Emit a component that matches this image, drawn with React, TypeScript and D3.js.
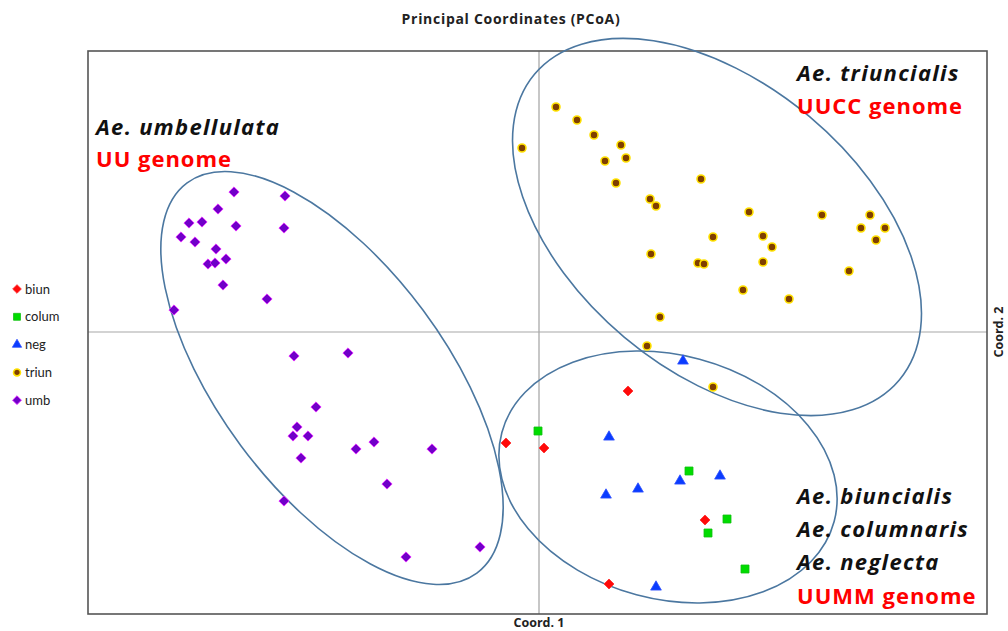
import * as d3 from "d3";
import React from "react";

// coord values (coord 1, coord 2)
const biunX = [0.089, -0.033, 0.005, 0.166, 0.07];
const biunY = [-0.059, -0.111, -0.116, -0.188, -0.252];

const columX = [-0.001, 0.15, 0.188, 0.169, 0.206];
const columY = [-0.099, -0.139, -0.187, -0.201, -0.237];

const negX = [0.144, 0.07, 0.181, 0.141, 0.099, 0.067, 0.117];
const negY = [-0.029, -0.105, -0.144, -0.149, -0.157, -0.163, -0.255];

const triunX = [0.017, -0.017, 0.038, 0.055, 0.082, 0.066, 0.087, 0.077, 0.162, 0.111, 0.117, 0.21, 0.283, 0.331, 0.322,
  0.346, 0.337, 0.174, 0.224, 0.233, 0.112, 0.159, 0.165, 0.224, 0.31, 0.204, 0.25, 0.121, 0.108, 0.174];
const triunY = [0.225, 0.184, 0.212, 0.197, 0.187, 0.171, 0.174, 0.149, 0.153, 0.133, 0.126, 0.12, 0.117, 0.117, 0.104,
  0.104, 0.092, 0.095, 0.096, 0.085, 0.078, 0.069, 0.068, 0.07, 0.061, 0.042, 0.033, 0.015, -0.014, -0.055];

const umbX = [-0.305, -0.254, -0.321, -0.35, -0.337, -0.303, -0.255, -0.358, -0.344, -0.323, -0.313, -0.331, -0.324,
  -0.316, -0.272, -0.365, -0.245, -0.191, -0.223, -0.242, -0.246, -0.231, -0.165, -0.183, -0.107, -0.238, -0.152,
  -0.255, -0.059, -0.133];
const umbY = [0.14, 0.136, 0.123, 0.109, 0.11, 0.106, 0.104, 0.095, 0.09, 0.083, 0.073, 0.068, 0.069, 0.047, 0.033,
  0.022, -0.024, -0.021, -0.075, -0.095, -0.104, -0.104, -0.11, -0.117, -0.117, -0.126, -0.152, -0.169, -0.215, -0.225];

const groupNames = ["biun", "colum", "neg", "triun", "umb"];

// group ellipses: centre, semi axes (coord units), tilt in degrees
const ellCx = [-0.207, 0.178, 0.129];
const ellCy = [-0.046, 0.105, -0.145];
const ellA = [0.243, 0.238, 0.172];
const ellB = [0.1135, 0.144, 0.122];
const ellTilt = [53.4, 40, 15];

const W = 1008;
const H = 631;
const frame = { left: 88, top: 51, right: 987, bottom: 614 };

const styles: any = {
  biun: { shape: "diamond", fill: "#ff0a0a", stroke: "#ff3030", size: 50 },
  colum: { shape: "square", fill: "#00dc00", stroke: "#10c010", size: 64 },
  neg: { shape: "triangle", fill: "#0a3cff", stroke: "#3050ff", size: 50 },
  triun: { shape: "circle", fill: "#7f3f00", stroke: "#ffe100", size: 50 },
  umb: { shape: "diamond", fill: "#7000c8", stroke: "#e020ff", size: 52 },
};

function symbolPath(shape: string, size: number) {
  const t =
    shape === "square" || shape === "diamond" ? d3.symbolSquare
      : shape === "triangle" ? d3.symbolTriangle
        : d3.symbolCircle;
  return d3.symbol().type(t).size(size)()!;
}

const Marker = ({ name, x, y, scale = 1 }: any) => {
  const s = styles[name];
  const rot = s.shape === "diamond" ? " rotate(45)" : "";
  return (
    <path
      d={symbolPath(s.shape, s.size * scale)}
      transform={`translate(${x},${y})${rot}`}
      fill={s.fill}
      stroke={s.stroke}
      strokeWidth={s.shape === "circle" ? 1.6 : 0.8}
    />
  );
};

const App = () => {
  const x = d3.scaleLinear().domain([-0.451, 0.448]).range([frame.left, frame.right]);
  const y = d3.scaleLinear().domain([-0.282, 0.281]).range([frame.bottom, frame.top]);

  const groups: any = {
    biun: d3.zip(biunX, biunY),
    colum: d3.zip(columX, columY),
    neg: d3.zip(negX, negY),
    triun: d3.zip(triunX, triunY),
    umb: d3.zip(umbX, umbY),
  };

  const font = "'Open Sans', Lato, sans-serif";

  return (
    <svg width={W} height={H} style={{ position: "absolute", left: 0, top: 0, background: "#fff" }} fontFamily={font}>
      <rect width={W} height={H} fill="#fff" />
      <text x={511} y={24} textAnchor="middle" fontSize={14} fontWeight="bold" letterSpacing={0.7} fill="#222">
        Principal Coordinates (PCoA)
      </text>

      {/* zero lines */}
      <line x1={x(0)} x2={x(0)} y1={frame.top} y2={frame.bottom} stroke="#b4b4b4" strokeWidth={1.5} />
      <line x1={frame.left} x2={frame.right} y1={y(0)} y2={y(0)} stroke="#a8a8a8" strokeWidth={1.2} />

      <rect
        x={frame.left}
        y={frame.top}
        width={frame.right - frame.left}
        height={frame.bottom - frame.top}
        fill="none"
        stroke="#555"
        strokeWidth={1.6}
      />

      <text x={x(0)} y={627} textAnchor="middle" fontSize={12.5} fontWeight="bold" fill="#222">
        Coord. 1
      </text>
      <text transform={`translate(1003,${y(0)}) rotate(-90)`} textAnchor="middle" fontSize={12.5} fontWeight="bold" fill="#222">
        Coord. 2
      </text>

      {/* ellipses */}
      {ellCx.map((cx, i) => (
        <ellipse
          key={i}
          cx={x(cx)}
          cy={y(ellCy[i])}
          rx={x(ellA[i]) - x(0)}
          ry={y(0) - y(ellB[i])}
          transform={`rotate(${ellTilt[i]},${x(cx)},${y(ellCy[i])})`}
          fill="none"
          stroke="#4b77a0"
          strokeWidth={1.6}
        />
      ))}

      {/* points */}
      {groupNames.map((g) =>
        groups[g].map((p: number[], i: number) => (
          <Marker key={g + i} name={g} x={x(p[0])} y={y(p[1])} />
        ))
      )}

      {/* legend */}
      {groupNames.map((g, i) => (
        <g key={g} transform={`translate(17,${289 + i * 27.8})`}>
          <Marker name={g} x={0} y={0} scale={0.75} />
          <text x={8} y={4.5} fontSize={13} fontFamily="Lato, sans-serif" fill="#222">{g}</text>
        </g>
      ))}

      {/* annotations */}
      <g fontSize={22} fontWeight="bold">
        <g fontStyle="italic" fill="#111" letterSpacing={1.3}>
          <text x={96} y={135}>Ae. umbellulata</text>
          <text x={797} y={81}>Ae. triuncialis</text>
          <text x={797} y={504}>Ae. biuncialis</text>
          <text x={797} y={537}>Ae. columnaris</text>
          <text x={797} y={570}>Ae. neglecta</text>
        </g>
        <g fill="#ff0000" letterSpacing={1}>
          <text x={96} y={167}>UU genome</text>
          <text x={797} y={114}>UUCC genome</text>
          <text x={797} y={604}>UUMM genome</text>
        </g>
      </g>
    </svg>
  );
};

export default App;
